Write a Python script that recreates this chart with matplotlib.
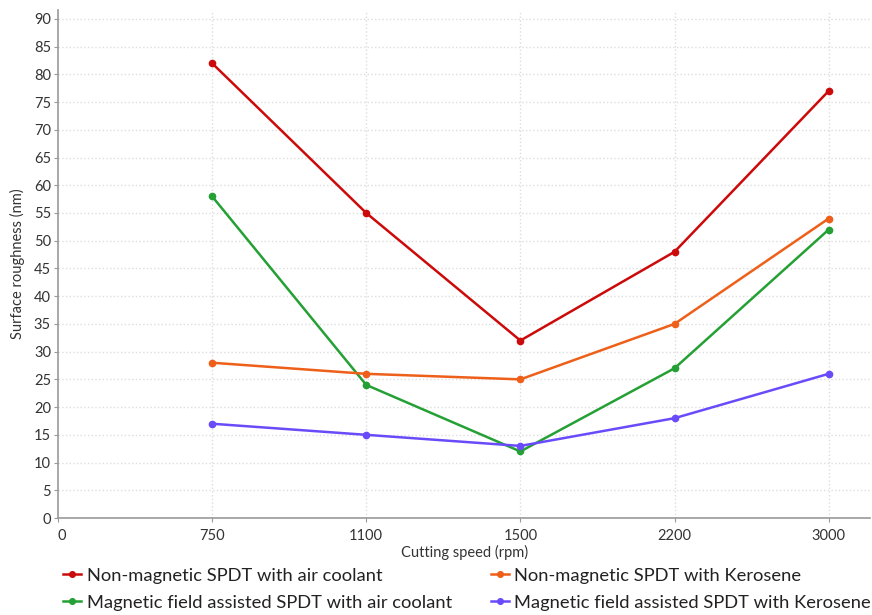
import matplotlib
matplotlib.use("Agg")
import matplotlib.pyplot as plt

speeds = ["750", "1100", "1500", "2200", "3000"]
tick_labels = ["0"] + speeds

nonmag_air = [82, 55, 32, 48, 77]
nonmag_kero = [28, 26, 25, 35, 54]
mag_air = [58, 24, 12, 27, 52]
mag_kero = [17, 15, 13, 18, 26]

series = [
    ("Non-magnetic SPDT with air coolant", nonmag_air, "#cc0a0a"),
    ("Magnetic field assisted SPDT with air coolant", mag_air, "#24a034"),
    ("Non-magnetic SPDT with Kerosene", nonmag_kero, "#ee5f1a"),
    ("Magnetic field assisted SPDT with Kerosene", mag_kero, "#6a4bfa"),
]

plt.rcParams['font.family'] = ['Lato', 'DejaVu Sans']

fig = plt.figure(figsize=(8.72, 6.15), dpi=100)
ax = fig.add_axes([0.0665, 0.1577, 0.9315, 0.826])

xs = list(range(1, len(speeds) + 1))
for name, vals, col in series:
    ax.plot(xs, vals, color=col, linewidth=1.8, marker='o', markersize=4.5, label=name)

ax.set_xlim(0, 5.27)
ax.set_ylim(0, 91.6)
ax.set_yticks(range(0, 91, 5))
ax.set_xticks(range(0, len(tick_labels)))
ax.set_xticklabels(tick_labels)
ax.get_xticklabels()[0].set_horizontalalignment('left')

for s in ['top', 'right']:
    ax.spines[s].set_visible(False)
for s in ['left', 'bottom']:
    ax.spines[s].set_color('#999999')
    ax.spines[s].set_linewidth(1.2)

ax.tick_params(axis='both', colors='#999999', labelcolor='#333333', labelsize=10.5, length=3)
ax.tick_params(axis='x', pad=5)
ax.tick_params(axis='y', pad=2)

ax.yaxis.grid(True, color='#dddddd', linestyle=':', linewidth=1)
ax.xaxis.grid(True, color='#dddddd', linestyle=':', linewidth=1)
ax.xaxis.get_gridlines()[0].set_visible(False)
ax.set_axisbelow(True)

ax.set_xlabel("Cutting speed (rpm)", fontsize=10.5, color='#333333', labelpad=1)
ax.set_ylabel("Surface roughness (nm)", fontsize=10.5, color='#333333', labelpad=6)

fig.legend(loc='lower left', bbox_to_anchor=(0.053, -0.02), ncol=2, frameon=False,
           fontsize=13.2, handlelength=1.0, handletextpad=0.3, columnspacing=2.12,
           labelspacing=0.6, markerscale=0.9, labelcolor='#222222')

fig.savefig("out.png", dpi=100)
